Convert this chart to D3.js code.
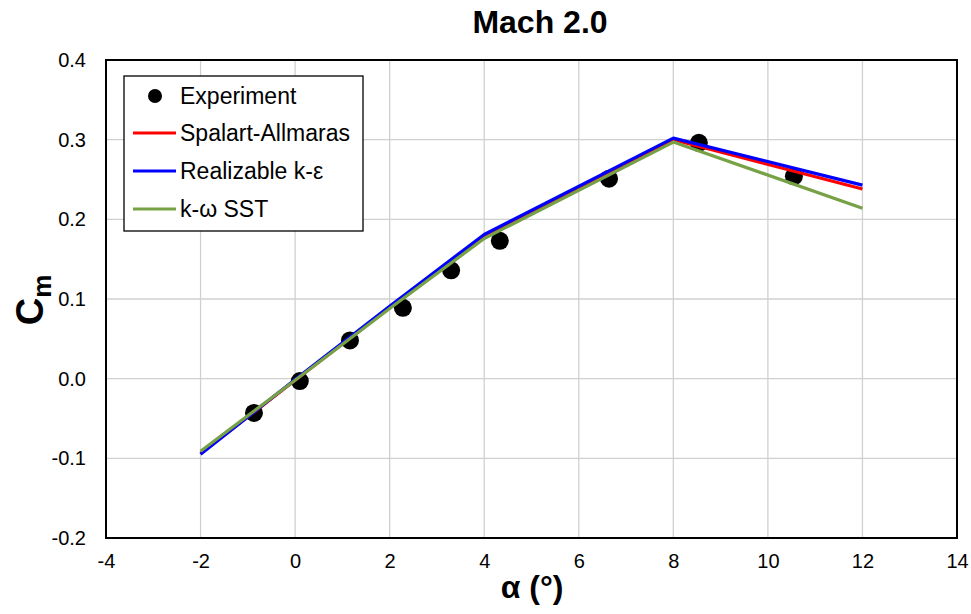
<!DOCTYPE html>
<html><head><meta charset="utf-8">
<script src="https://cdn.jsdelivr.net/npm/d3@7"></script>
<style>body{margin:0;background:#fff}svg{font-family:"Liberation Sans",Arial,sans-serif}</style>
</head><body>
<script>
const expAlpha = [-0.87, 0.10, 1.16, 2.28, 3.30, 4.33, 6.64, 8.54, 10.55];
const expCm    = [-0.043, -0.003, 0.048, 0.089, 0.136, 0.173, 0.251, 0.296, 0.254];
const cfdAlpha = [-2, 0, 2, 4, 8, 12];
const saCm     = [-0.094, -0.002, 0.089, 0.178, 0.300, 0.238];
const rkeCm    = [-0.095, -0.001, 0.091, 0.181, 0.302, 0.243];
const sstCm    = [-0.091, -0.002, 0.088, 0.176, 0.297, 0.214];
const xTicks = [-4,-2,0,2,4,6,8,10,12,14];
const yTicks = [-0.2,-0.1,0.0,0.1,0.2,0.3,0.4];
const seriesNames = ["Spalart-Allmaras","Realizable k-ε","k-ω SST"];
const seriesColors = ["#ff0000","#0000ff","#77a145"];

const W=971,H=614;
const svg=d3.select("body").append("svg").attr("width",W).attr("height",H);
const L=106,R=957,T=60,B=538;
const x=d3.scaleLinear().domain([-4,14]).range([L,R]);
const y=d3.scaleLinear().domain([-0.2,0.4]).range([B,T]);

// grid
const g=svg.append("g");
g.selectAll(".vx").data(xTicks).enter().append("line")
 .attr("x1",d=>x(d)).attr("x2",d=>x(d)).attr("y1",T).attr("y2",B).attr("stroke","#d0d0d0").attr("stroke-width",1.3);
g.selectAll(".hy").data(yTicks).enter().append("line")
 .attr("y1",d=>y(d)).attr("y2",d=>y(d)).attr("x1",L).attr("x2",R).attr("stroke","#d0d0d0").attr("stroke-width",1.3);

// axes
const fmtX=d=>String(d);
const fmtY=d=>d3.format(".1f")(d).replace("−","-");
const xa=svg.append("g").attr("transform",`translate(0,${B})`).call(d3.axisBottom(x).tickValues(xTicks).tickSize(0).tickPadding(16).tickFormat(fmtX));
xa.select(".domain").remove();
xa.selectAll("text").attr("font-size",20).attr("fill","#000").attr("font-family","Liberation Sans, Arial");
const ya=svg.append("g").attr("transform",`translate(${L},0)`).call(d3.axisLeft(y).tickValues(yTicks).tickSize(0).tickPadding(20).tickFormat(fmtY));
ya.select(".domain").remove();
ya.selectAll("text").attr("font-size",20).attr("fill","#000").attr("font-family","Liberation Sans, Arial");

// frame
svg.append("rect").attr("x",L).attr("y",T).attr("width",R-L).attr("height",B-T).attr("fill","none").attr("stroke","#000").attr("stroke-width",2);

// lines
const allCm=[saCm,rkeCm,sstCm];
const line=d3.line().x(d=>x(d[0])).y(d=>y(d[1]));
const lineG=svg.append("g");
const ptG=lineG.append("g");
allCm.forEach((arr,i)=>{
  lineG.append("path").datum(cfdAlpha.map((a,j)=>[a,arr[j]])).attr("d",line)
   .attr("fill","none").attr("stroke",seriesColors[i]).attr("stroke-width",3.2).attr("stroke-linejoin","round");
});
ptG.selectAll("circle").data(expAlpha.map((a,i)=>[a,expCm[i]])).enter().append("circle")
 .attr("cx",d=>x(d[0])).attr("cy",d=>y(d[1])).attr("r",9).attr("fill","#000");

// legend
const lg=svg.append("g");
lg.append("rect").attr("x",124).attr("y",76).attr("width",239).attr("height",155).attr("fill","#fff").attr("stroke","#000").attr("stroke-width",1.3);
const ly=[96,133,171,209];
lg.append("circle").attr("cx",155).attr("cy",ly[0]).attr("r",7).attr("fill","#000");
lg.append("text").attr("x",180).attr("y",ly[0]).attr("dy","0.35em").attr("font-size",23).text("Experiment");
seriesNames.forEach((n,i)=>{
  lg.append("line").attr("x1",133).attr("x2",176).attr("y1",ly[i+1]).attr("y2",ly[i+1]).attr("stroke",seriesColors[i]).attr("stroke-width",3.2);
  lg.append("text").attr("x",180).attr("y",ly[i+1]).attr("dy","0.35em").attr("font-size",23).text(n);
});

// titles
svg.append("text").attr("x",540).attr("y",33).attr("text-anchor","middle").attr("font-size",32).attr("font-weight","bold").text("Mach 2.0");
svg.append("text").attr("x",532).attr("y",598).attr("text-anchor","middle").attr("font-size",32).attr("font-weight","bold").text("α (°)");
const yl=svg.append("text").attr("transform","translate(43,300) rotate(-90)").attr("text-anchor","middle").attr("font-size",38).attr("font-weight","bold");
yl.append("tspan").text("C");
yl.append("tspan").attr("font-size",26).attr("dy",8).text("m");
</script>
</body></html>
